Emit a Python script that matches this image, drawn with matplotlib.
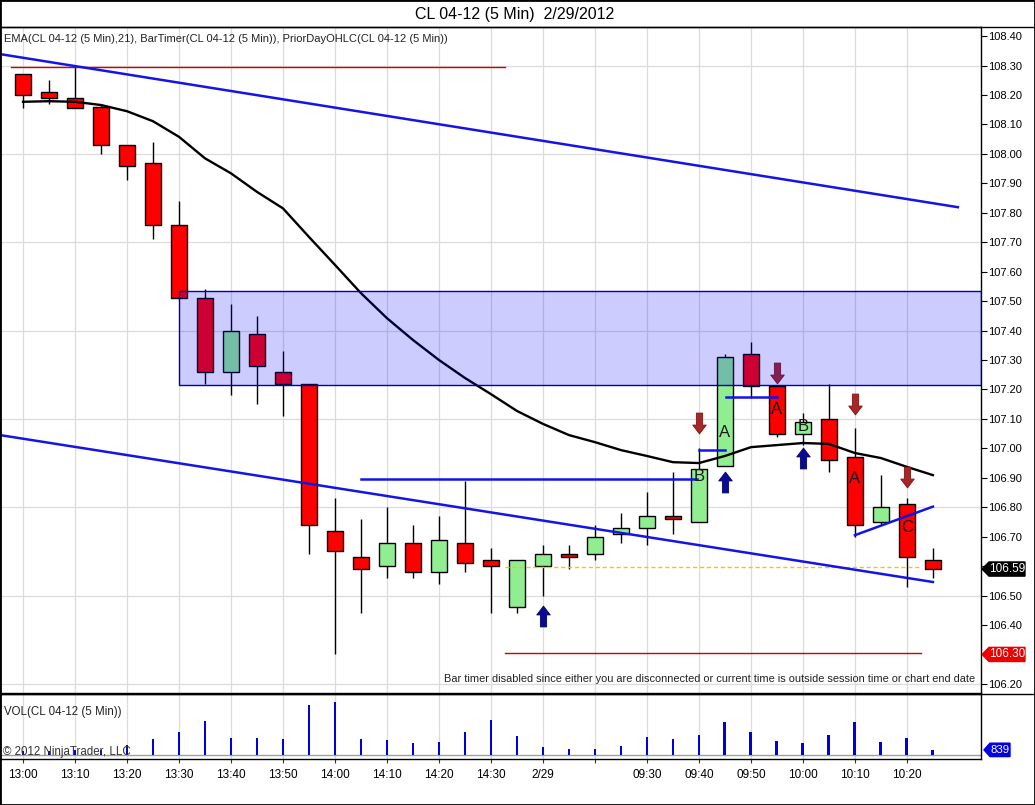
import numpy as np
import matplotlib
matplotlib.use("Agg")
import matplotlib.pyplot as plt
from matplotlib.path import Path
from matplotlib.patches import Rectangle, Polygon
from matplotlib.transforms import blended_transform_factory

plt.rcParams['font.family'] = ['Liberation Sans', 'DejaVu Sans']

# ---------------- data ----------------
opens  = [108.27, 108.21, 108.19, 108.16, 108.03, 107.97, 107.76, 107.51, 107.26, 107.39,
          107.26, 107.22, 106.72, 106.63, 106.60, 106.68, 106.58, 106.68, 106.62, 106.46,
          106.60, 106.64, 106.64, 106.71, 106.73, 106.77, 106.75, 106.94, 107.32, 107.21,
          107.05, 107.10, 106.97, 106.75, 106.81, 106.62]
highs  = [108.27, 108.25, 108.30, 108.17, 108.03, 108.04, 107.84, 107.54, 107.49, 107.45,
          107.33, 107.22, 106.83, 106.76, 106.80, 106.74, 106.77, 106.89, 106.66, 106.62,
          106.67, 106.67, 106.74, 106.78, 106.85, 106.92, 107.00, 107.32, 107.36, 107.21,
          107.12, 107.22, 107.07, 106.91, 106.83, 106.66]
lows   = [108.155, 108.17, 108.155, 108.00, 107.91, 107.71, 107.51, 107.22, 107.18, 107.15,
          107.11, 106.64, 106.30, 106.44, 106.56, 106.56, 106.54, 106.58, 106.44, 106.44,
          106.50, 106.59, 106.62, 106.68, 106.67, 106.71, 106.75, 106.94, 107.17, 107.04,
          107.01, 106.92, 106.70, 106.74, 106.53, 106.56]
closes = [108.20, 108.19, 108.155, 108.03, 107.96, 107.76, 107.51, 107.26, 107.40, 107.28,
          107.22, 106.74, 106.65, 106.59, 106.68, 106.58, 106.69, 106.61, 106.60, 106.62,
          106.64, 106.63, 106.70, 106.73, 106.77, 106.76, 106.93, 107.31, 107.21, 107.05,
          107.09, 106.96, 106.74, 106.80, 106.63, 106.59]
ema21  = [108.177, 108.179, 108.177, 108.166, 108.145, 108.111, 108.058, 107.985, 107.934, 107.871,
          107.815, 107.718, 107.623, 107.527, 107.442, 107.368, 107.300, 107.239, 107.184, 107.127,
          107.083, 107.045, 107.021, 106.994, 106.974, 106.953, 106.950, 106.974, 107.004, 107.011,
          107.018, 107.015, 106.984, 106.967, 106.937, 106.909]
volumes = [700, 600, 800, 800, 1650, 2600, 3800, 5600, 2800, 2800,
           2600, 8200, 8700, 2600, 2450, 2000, 2150, 3800, 5700, 3150,
           1350, 1000, 1000, 1500, 3000, 2700, 3200, 5400, 3700, 2350,
           2000, 3200, 5400, 2200, 2850, 839]

tick_bars   = [0, 2, 4, 6, 8, 10, 12, 14, 16, 18, 20, 22, 24, 26, 28, 30, 32, 34]
tick_labels = ["13:00", "13:10", "13:20", "13:30", "13:40", "13:50", "14:00", "14:10", "14:20",
               "14:30", "2/29", "", "09:30", "09:40", "09:50", "10:00", "10:10", "10:20"]

# drawn objects (bar index, price)
upper_channel = ([-0.885, 35.96], [108.339, 107.819])
lower_channel = ([-0.885, 35.0], [107.045, 106.546])
level_lines = [([13.0, 25.92], [106.896, 106.896]),
               ([26.0, 27.0], [106.995, 106.995]),
               ([27.03, 28.99], [107.173, 107.173]),
               ([32.0, 35.0], [106.705, 106.802])]
prior_high = ([-0.46, 18.54], 108.294)
prior_low = ([18.54, 34.54], 106.305)
prior_close = ([18.54, 34.5], 106.597)
zone_start, zone_low, zone_high = 6.0, 107.215, 107.536
down_arrow_bars = [26, 29, 32, 34]
down_arrow_prices = [107.086, 107.257, 107.150, 106.903]
up_arrow_bars = [20, 27, 30]
up_arrow_prices = [106.432, 106.886, 106.967]
label_bars = [26, 27, 29, 30, 32, 34]
label_prices = [106.905, 107.053, 107.133, 107.073, 106.899, 106.730]
label_texts = ["B", "A", "A", "B", "A", "C"]
last_price = 106.59
low_tag = 106.30

# ---------------- figure ----------------
W, H = 1035, 805
fig = plt.figure(figsize=(W / 100, H / 100), dpi=100)
ax = fig.add_axes([0, 1 - 693 / H, 981 / W, 666 / H])
axv = fig.add_axes([0, 1 - 759 / H, 981 / W, 65 / H], sharex=ax)

xmin, xmax = -0.885, 36.85
ymin, ymax = 106.169, 108.431

x = np.arange(len(opens))
o = np.array(opens); c = np.array(closes)

# grid
for v in np.arange(106.2, 108.31, 0.3):
    ax.axhline(v, color='#DCDCDC', lw=0.9, zorder=0)
for t in tick_bars:
    ax.axvline(t, color='#DCDCDC', lw=0.9, zorder=0)
    axv.axvline(t, color='#DCDCDC', lw=0.9, zorder=0)

# candles
ax.vlines(x, lows, highs, color='black', lw=1.0, zorder=2)
body_col = ['#90EE90' if cc > oo else '#FF0000' for oo, cc in zip(o, c)]
heights = np.maximum(np.abs(c - o), 0.008)
ax.bar(x, heights, bottom=np.minimum(o, c), width=0.62, color=body_col,
       edgecolor='black', linewidth=1.0, zorder=3)

# EMA
ax.plot(x, ema21, color='black', lw=1.7, zorder=4)

# lines
blue = '#1414E6'
ax.plot(*upper_channel, color=blue, lw=1.8, zorder=5)
ax.plot(*lower_channel, color=blue, lw=1.8, zorder=5)
for xs, ys in level_lines:
    ax.plot(xs, ys, color=blue, lw=1.8, zorder=5)
ax.plot(prior_high[0], [prior_high[1]] * 2, color='#CC0000', lw=1.0, zorder=4)
ax.plot(prior_low[0], [prior_low[1]] * 2, color='#CC0000', lw=1.0, zorder=4)
ax.plot(prior_close[0], [prior_close[1]] * 2, color='#F0C800', lw=1.0,
        linestyle=(0, (3, 2)), zorder=4)

# arrows
up_path = Path([(-0.3, -1), (0.3, -1), (0.3, 0.15), (0.65, 0.15), (0, 1),
                (-0.65, 0.15), (-0.3, 0.15), (-0.3, -1)], closed=True)
down_path = Path([(px, -py) for px, py in up_path.vertices], closed=True)
ax.plot(down_arrow_bars, down_arrow_prices, linestyle='none', marker=down_path,
        markersize=15, color='#A82626', markeredgecolor='#7A1515', markeredgewidth=0.6, zorder=5)
ax.plot(up_arrow_bars, up_arrow_prices, linestyle='none', marker=up_path,
        markersize=15, color='#0A0A96', markeredgecolor='#05055A', markeredgewidth=0.6, zorder=5)

for b, p, t in zip(label_bars, label_prices, label_texts):
    ax.text(b, p, t, ha='center', va='center', fontsize=12, color='#1A1A1A', zorder=6)

# zone
ax.add_patch(Rectangle((zone_start, zone_low), xmax - zone_start, zone_high - zone_low,
                       facecolor=(0, 0, 1, 0.2), edgecolor='#0000B4', lw=1.0, zorder=7))

ax.set_xlim(xmin, xmax)
ax.set_ylim(ymin, ymax)
ax.yaxis.tick_right()
yt = np.round(np.arange(106.2, 108.41, 0.1), 2)
ax.set_yticks(yt)
# labels at 106.30 and 106.60 are covered by the price tags in the original
ax.set_yticklabels(["" if v in (106.3, 106.6) else f"{v:.2f}" for v in yt])
ax.tick_params(axis='y', direction='out', length=4, labelsize=8, pad=1, right=True, left=False)
ax.tick_params(axis='x', bottom=False, labelbottom=False)
for s in ax.spines.values():
    s.set_color('black'); s.set_linewidth(1.0)

# volume
axv.bar(x, volumes, width=0.11, color='#0000DD', zorder=3)
axv.axhline(0, color='#A0A0A0', lw=1.0, zorder=2)
axv.set_ylim(-656, 10004)
axv.set_yticks([])
axv.set_xticks(tick_bars)
axv.set_xticklabels(tick_labels)
axv.tick_params(axis='x', length=3, pad=4, labelsize=8.5, color='#333333')
for s in axv.spines.values():
    s.set_color('black'); s.set_linewidth(1.0)

# texts
fig.text(0.4975, 1 - 14 / H, "CL 04-12 (5 Min)  2/29/2012", ha='center', va='center', fontsize=11.5)
fig.text(4 / W, 1 - 39 / H,
         "EMA(CL 04-12 (5 Min),21), BarTimer(CL 04-12 (5 Min)), PriorDayOHLC(CL 04-12 (5 Min))",
         ha='left', va='center', fontsize=8.0, color='#222222')
fig.text(975 / W, 1 - 679 / H,
         "Bar timer disabled since either you are disconnected or current time is outside session time or chart end date",
         ha='right', va='center', fontsize=7.9, color='#222222')
fig.text(4 / W, 1 - 712 / H, "VOL(CL 04-12 (5 Min))", ha='left', va='center', fontsize=8.3, color='#222222')
fig.text(3 / W, 1 - 752 / H, "\u00a9 2012 NinjaTrader, LLC", ha='left', va='center', fontsize=8.3,
         color='#333333', zorder=10)

# price tags
def tag(axis, value, text, fc, half_h, x0=982, x1=989, x2=1025, fs=8.5):
    tr = blended_transform_factory(fig.transFigure, axis.transData)
    poly = Polygon([(x0 / W, value), (x1 / W, value + half_h), (x2 / W, value + half_h),
                    (x2 / W, value - half_h), (x1 / W, value - half_h)], closed=True,
                   transform=tr, facecolor=fc, edgecolor=fc, clip_on=False, zorder=20)
    fig.add_artist(poly)
    fig.text((x1 + x2) / 2 / W, value, text, transform=tr, ha='center', va='center',
             fontsize=fs, color='white', zorder=21)

tag(ax, last_price, f"{last_price:.2f}", 'black', 0.024)
tag(ax, low_tag, f"{low_tag:.2f}", '#EE0000', 0.024)
tag(axv, volumes[-1], f"{volumes[-1]}", '#0000E0', 1100, x0=984, x1=990, x2=1010, fs=8.2)

# separators and border
fig.add_artist(plt.Line2D([0, 1], [1 - 27 / H] * 2, transform=fig.transFigure, color='black', lw=1.0))
fig.add_artist(plt.Line2D([0, 1], [1 - 693.5 / H] * 2, transform=fig.transFigure, color='black', lw=1.0))
fig.add_artist(Rectangle((0, 0), 1, 1, transform=fig.transFigure, fill=False, ec='black', lw=2.0))

fig.savefig("out.png", dpi=100)
